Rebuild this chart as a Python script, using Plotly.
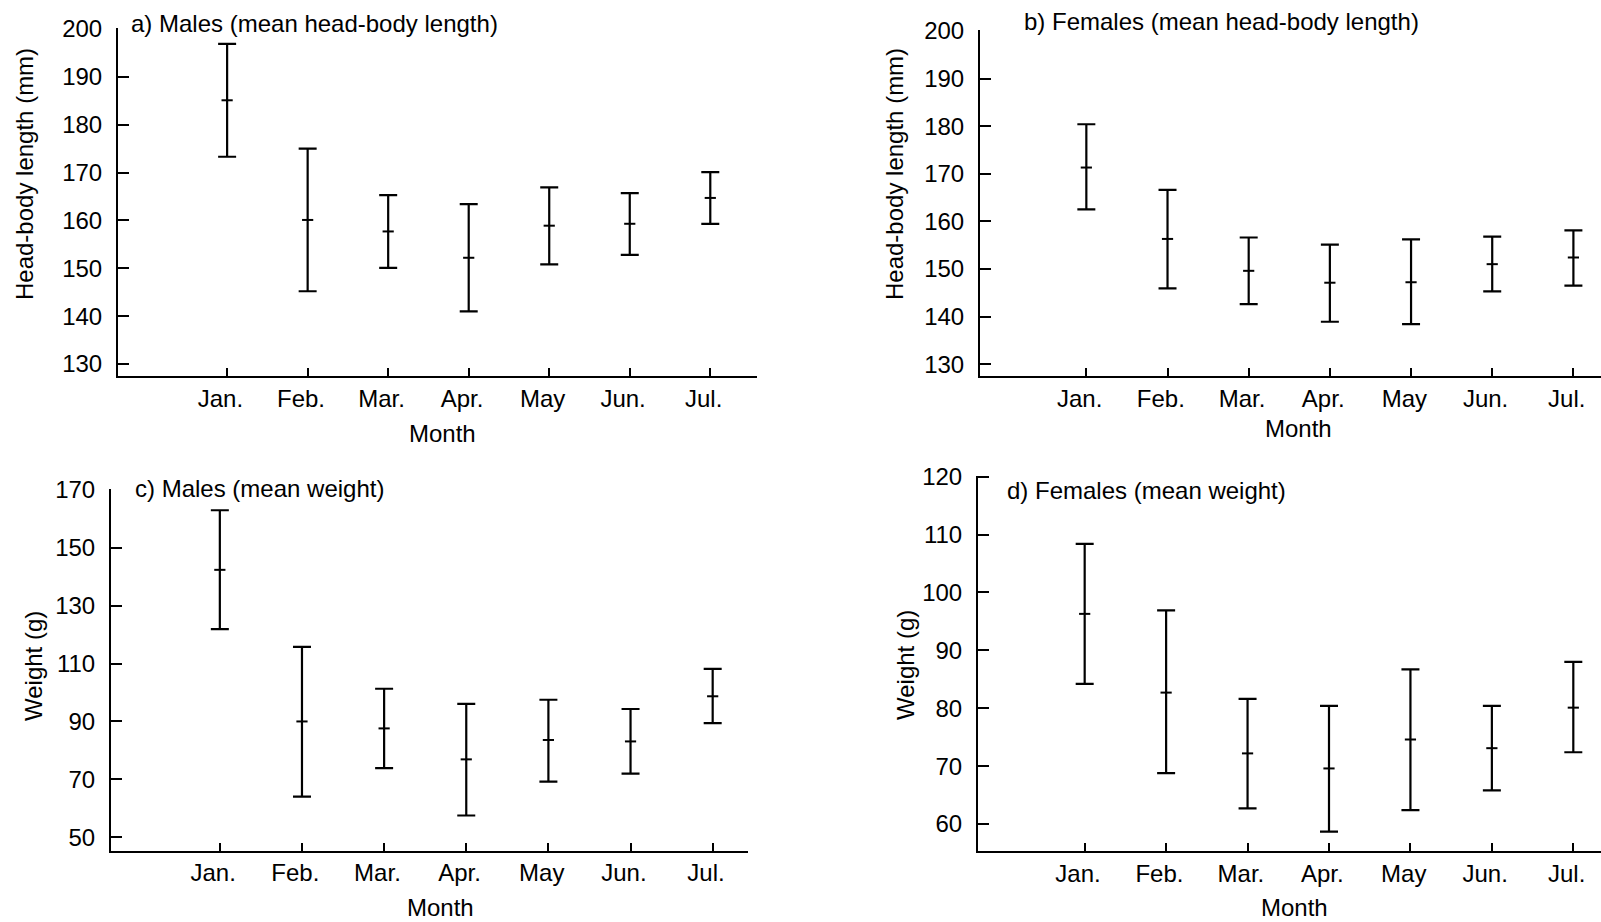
import plotly.graph_objects as go

months = ["Jan.", "Feb.", "Mar.", "Apr.", "May", "Jun.", "Jul."]

# a) Males, head-body length (mm)
male_len_mean = [185.1, 160.1, 157.7, 152.2, 158.9, 159.3, 164.7]
male_len_upper = [196.9, 175.0, 165.3, 163.4, 166.9, 165.7, 170.1]
male_len_lower = [173.3, 145.2, 150.1, 141.0, 150.8, 152.8, 159.3]

# b) Females, head-body length (mm)
fem_len_mean = [171.3, 156.3, 149.6, 147.1, 147.2, 151.0, 152.4]
fem_len_upper = [180.4, 166.6, 156.6, 155.1, 156.2, 156.8, 158.1]
fem_len_lower = [162.5, 145.9, 142.6, 138.9, 138.4, 145.3, 146.5]

# c) Males, weight (g)
male_wt_mean = [142.4, 90.0, 87.6, 76.9, 83.6, 83.1, 98.7]
male_wt_upper = [163.0, 115.8, 101.3, 96.1, 97.5, 94.3, 108.2]
male_wt_lower = [121.9, 64.0, 73.9, 57.5, 69.2, 72.0, 89.4]

# d) Females, weight (g)
fem_wt_mean = [96.3, 82.7, 72.2, 69.6, 74.6, 73.1, 80.1]
fem_wt_upper = [108.4, 96.9, 81.6, 80.4, 86.7, 80.4, 88.0]
fem_wt_lower = [84.2, 68.8, 62.7, 58.7, 62.4, 65.8, 72.4]

len_ticks = [130, 140, 150, 160, 170, 180, 190, 200]
male_wt_ticks = [50, 70, 90, 110, 130, 150, 170]
fem_wt_ticks = [60, 70, 80, 90, 100, 110, 120]

FONT = "Liberation Sans, Arial, Helvetica, sans-serif"
FS = 24

panels = [
    ("x", "y", male_len_mean, male_len_upper, male_len_lower),
    ("x2", "y2", fem_len_mean, fem_len_upper, fem_len_lower),
    ("x3", "y3", male_wt_mean, male_wt_upper, male_wt_lower),
    ("x4", "y4", fem_wt_mean, fem_wt_upper, fem_wt_lower),
]

fig = go.Figure()
for xa, ya, mean, up, lo in panels:
    fig.add_trace(go.Scatter(
        x=months, y=mean, xaxis=xa, yaxis=ya, mode="markers",
        marker=dict(symbol="line-ew", size=8, line=dict(width=2, color="black"), color="black"),
        error_y=dict(type="data", symmetric=False,
                     array=[u - m for u, m in zip(up, mean)],
                     arrayminus=[m - l for m, l in zip(mean, lo)],
                     color="black", thickness=2.2, width=9),
        showlegend=False, hoverinfo="skip", cliponaxis=False,
    ))

W, H = 1601, 922

def xdom(a, b):
    return [a / W, b / W]

def ydom(top, bottom):
    return [1 - bottom / H, 1 - top / H]

def xax(dom, rng, anchor):
    return dict(domain=dom, range=rng, anchor=anchor, type="category",
                automargin=False,
                tickmode="array", tickvals=months,
                ticktext=[m + "\u00a0\u00a0" for m in months],
                showline=True, linecolor="black", linewidth=2,
                ticks="inside", ticklen=8, tickwidth=2, tickcolor="black",
                showgrid=False, zeroline=False,
                tickfont=dict(family=FONT, size=FS, color="black"))

def yax(dom, rng, anchor, ticks):
    return dict(domain=dom, range=rng, anchor=anchor,
                automargin=False,
                tickmode="array", tickvals=ticks,
                showline=True, linecolor="black", linewidth=2,
                ticks="inside", ticklen=11, tickwidth=2, tickcolor="black",
                showgrid=False, zeroline=False, ticklabelstandoff=9,
                tickfont=dict(family=FONT, size=FS, color="black"))

fig.update_layout(
    width=W, height=H,
    margin=dict(l=0, r=0, t=0, b=0, autoexpand=False),
    paper_bgcolor="white", plot_bgcolor="white",
    font=dict(family=FONT, size=FS, color="black"),
    xaxis=xax(xdom(118, 757), [-1.355, 6.58], "y"),
    yaxis=yax(ydom(28, 376), [127.5, 200.2], "x", len_ticks),
    xaxis2=xax(xdom(980, 1601), [-1.31, 6.34], "y2"),
    yaxis2=yax(ydom(30, 376), [127.5, 200.2], "x2", len_ticks),
    xaxis3=xax(xdom(111, 748), [-1.325, 6.43], "y3"),
    yaxis3=yax(ydom(489.4, 850.5), [45.4, 170.2], "x3", male_wt_ticks),
    xaxis4=xax(xdom(978, 1601), [-1.31, 6.34], "y4"),
    yaxis4=yax(ydom(475.5, 851), [55.34, 120.2], "x4", fem_wt_ticks),
)

def ann(x, y, text, angle=0, xanchor="center"):
    fig.add_annotation(x=x / W, y=1 - y / H, xref="paper", yref="paper",
                       text=text, showarrow=False, textangle=angle,
                       xanchor=xanchor, yanchor="middle",
                       font=dict(family=FONT, size=FS, color="black"))

# panel titles
ann(129, 23, "a) Males (mean head-body length)", xanchor="left")
ann(1022, 21, "b) Females (mean head-body length)", xanchor="left")
ann(133, 488, "c) Males (mean weight)", xanchor="left")
ann(1005, 490, "d) Females (mean weight)", xanchor="left")

# axis titles
ann(442, 433, "Month")
ann(1298, 429, "Month")
ann(440, 907, "Month")
ann(1294, 907, "Month")
ann(25, 174, "Head-body length (mm)", angle=-90)
ann(895, 174, "Head-body length (mm)", angle=-90)
ann(33, 666, "Weight (g)", angle=-90)
ann(905, 665, "Weight (g)", angle=-90)

fig.write_html("out.html")
